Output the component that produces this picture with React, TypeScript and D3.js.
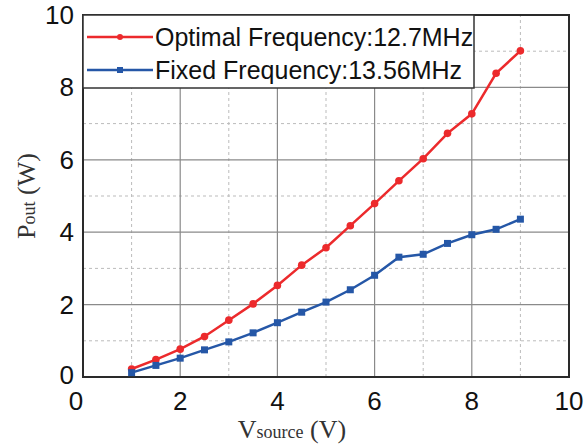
import React from 'react';
import * as d3 from 'd3';

const vSource = [1, 1.5, 2, 2.5, 3, 3.5, 4, 4.5, 5, 5.5, 6, 6.5, 7, 7.5, 8, 8.5, 9];
const optimalPout = [0.22, 0.48, 0.77, 1.12, 1.57, 2.02, 2.53, 3.09, 3.57, 4.18, 4.79, 5.42, 6.03, 6.73, 7.27, 8.39, 9.01];
const fixedPout = [0.12, 0.32, 0.52, 0.75, 0.97, 1.22, 1.5, 1.79, 2.07, 2.41, 2.81, 3.31, 3.39, 3.69, 3.93, 4.08, 4.36];
const majorTicks = [0, 2, 4, 6, 8, 10];
const minorTicks = [1, 3, 5, 7, 9];
const legendLabels = ['Optimal Frequency:12.7MHz', 'Fixed Frequency:13.56MHz'];

const W = 584;
const H = 447;
const margin = { top: 15, right: 15, bottom: 70, left: 83 };

export default function App() {
  const x = d3.scaleLinear().domain([0, 10]).range([margin.left, W - margin.right]);
  const y = d3.scaleLinear().domain([0, 10]).range([H - margin.bottom, margin.top]);

  const line = d3.line<number>()
    .x((d, i) => x(vSource[i]))
    .y((d) => y(d));

  const red = '#ec2a2c';
  const blue = '#2557a7';
  const sans = '"Liberation Sans", Arial, sans-serif';
  const serif = '"Liberation Serif", "Times New Roman", serif';

  const x0 = x(0), x1 = x(10), y0 = y(0), y1 = y(10);

  return (
    <svg width={W} height={H} style={{ position: 'absolute', left: 0, top: 0 }}>
      <rect width={W} height={H} fill="white" />
      {/* minor grid */}
      {minorTicks.map((t) => (
        <g key={'m' + t}>
          <line x1={x(t)} x2={x(t)} y1={y0} y2={y1} stroke="#bbb" strokeWidth={1} strokeDasharray="3,3" />
          <line x1={x0} x2={x1} y1={y(t)} y2={y(t)} stroke="#bbb" strokeWidth={1} strokeDasharray="3,3" />
        </g>
      ))}
      {/* major grid */}
      {majorTicks.slice(1, -1).map((t) => (
        <g key={'M' + t}>
          <line x1={x(t)} x2={x(t)} y1={y0} y2={y1} stroke="#8a8a8a" strokeWidth={1.2} />
          <line x1={x0} x2={x1} y1={y(t)} y2={y(t)} stroke="#8a8a8a" strokeWidth={1.2} />
        </g>
      ))}
      <rect x={x0} y={y1} width={x1 - x0} height={y0 - y1} fill="none" stroke="#2a2a2a" strokeWidth={2} />

      {/* tick labels */}
      {majorTicks.map((t) => (
        <text key={'xt' + t} x={x(t) - (t === 0 ? 7 : 0)} y={y0 + 33} textAnchor="middle" fontFamily={sans} fontSize={26} fill="#111">{t}</text>
      ))}
      {majorTicks.map((t) => (
        <text key={'yt' + t} x={x0 - 9} y={y(t) + (t === 0 ? 7 : 9)} textAnchor="end" fontFamily={sans} fontSize={26} fill="#111">{t}</text>
      ))}

      {/* series */}
      <path d={line(optimalPout) || ''} fill="none" stroke={red} strokeWidth={2.5} />
      {optimalPout.map((v, i) => (
        <circle key={'r' + i} cx={x(vSource[i])} cy={y(v)} r={3.8} fill={red} />
      ))}
      <path d={line(fixedPout) || ''} fill="none" stroke={blue} strokeWidth={2.5} />
      {fixedPout.map((v, i) => (
        <rect key={'b' + i} x={x(vSource[i]) - 3.5} y={y(v) - 3.5} width={7} height={7} fill={blue} />
      ))}

      {/* legend */}
      <rect x={x0} y={y1} width={474 - x0} height={88 - y1} fill="white" stroke="#333" strokeWidth={1.5} />
      {legendLabels.map((lab, i) => {
        const cy = 37 + i * 33;
        const c = i === 0 ? red : blue;
        return (
          <g key={lab}>
            <line x1={87} x2={153} y1={cy} y2={cy} stroke={c} strokeWidth={2.5} />
            {i === 0
              ? <circle cx={120} cy={cy} r={3} fill={c} />
              : <rect x={117} y={cy - 3} width={6} height={6} fill={c} />}
            <text x={155} y={cy + 9} fontFamily={sans} fontSize={25} fill="#111">{lab}</text>
          </g>
        );
      })}

      {/* axis titles */}
      <text x={292} y={438} textAnchor="middle" fontFamily={serif} fill="#333">
        <tspan fontSize={26}>V</tspan>
        <tspan fontSize={18}>source</tspan>
        <tspan fontSize={26}> (V)</tspan>
      </text>
      <text transform={`translate(35, ${(y0 + y1) / 2}) rotate(-90)`} textAnchor="middle" fontFamily={serif} fill="#333">
        <tspan fontSize={26}>P</tspan>
        <tspan fontSize={18}>out</tspan>
        <tspan fontSize={26}> (W)</tspan>
      </text>
    </svg>
  );
}
